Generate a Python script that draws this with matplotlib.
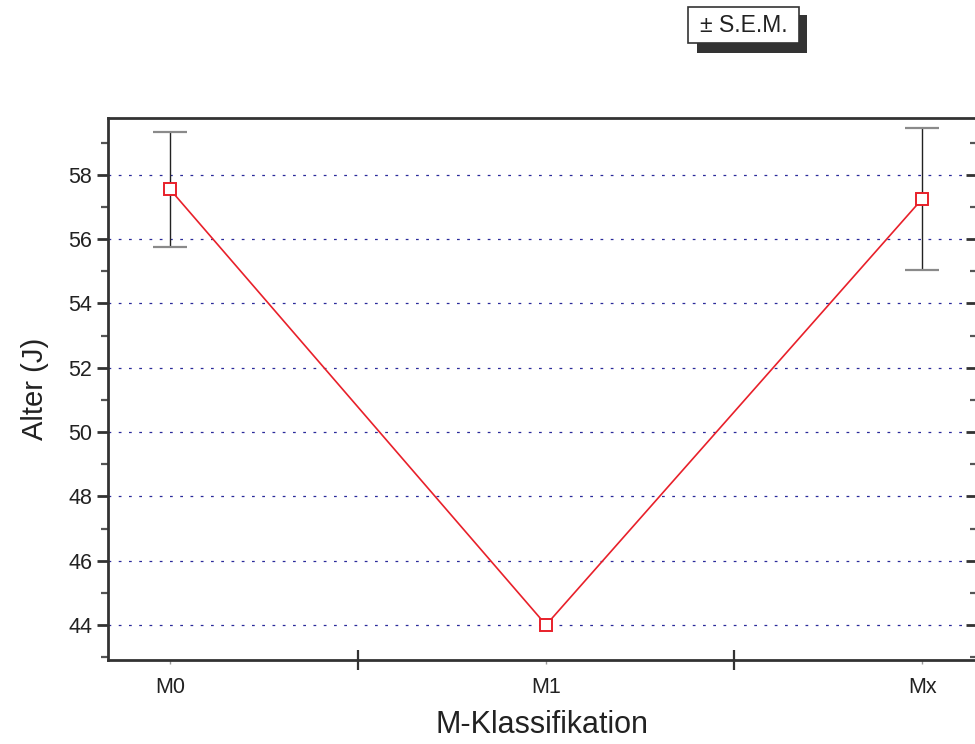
import numpy as np
import matplotlib.pyplot as plt
from matplotlib.patches import Rectangle
from matplotlib.ticker import MultipleLocator, FixedLocator

plt.rcParams['font.family'] = ['Liberation Sans', 'DejaVu Sans']

categories = ["M0", "M1", "Mx"]
mean_age = [57.55, 44.0, 57.25]
sem_age = [1.79, 0.0, 2.2]

W, H = 975, 744
fig = plt.figure(figsize=(W / 100, H / 100), dpi=100)
ax = fig.add_axes([108 / W, 1 - 660 / H, (977 - 108) / W, (660 - 118) / H])

x = np.arange(len(categories))
has_err = [s > 0 for s in sem_age]
eb = ax.errorbar(x[has_err], np.array(mean_age)[has_err], yerr=np.array(sem_age)[has_err],
                 fmt="none", ecolor="#222222", elinewidth=1.0, capsize=12, capthick=1.6, zorder=2)
# caps drawn in a lighter grey than the stems
for cap in eb.lines[1]:
    cap.set_markeredgecolor("#8a8a8a")
ax.plot(x, mean_age, color="#e8202a", lw=1.2, marker="s", markersize=8.5,
        markerfacecolor="white", markeredgecolor="#e8202a", markeredgewidth=1.4, zorder=3)

ax.set_xlim(-0.165, 2.146)
ax.set_ylim(42.91, 59.77)

ax.yaxis.set_major_locator(MultipleLocator(2))
ax.yaxis.set_minor_locator(MultipleLocator(1))
ax.grid(axis="y", which="major", color="#2a2a9a", linestyle=(0, (2.2, 6)), linewidth=0.9)

ax.xaxis.set_major_locator(FixedLocator(x))
ax.xaxis.set_minor_locator(FixedLocator([0.5, 1.5]))
ax.set_xticklabels(categories)
ax.tick_params(axis="x", which="major", length=3, width=1, color="#999999", labelsize=15.5, pad=9,
               labelcolor="#222222")
ax.tick_params(axis="x", which="minor", length=14, width=1.6, direction="inout", color="#333333")
ax.tick_params(axis="y", which="major", length=8, width=2, color="#333333", labelsize=15.5,
               labelcolor="#222222", right=True)
ax.tick_params(axis="y", which="minor", length=5, width=1.6, color="#555555", right=True)
ax.tick_params(axis="y", which="both", labelright=False)
# right-side ticks point inward
for t in ax.yaxis.get_major_ticks() + ax.yaxis.get_minor_ticks():
    t.tick2line.set_marker(0)

for s in ax.spines.values():
    s.set_color("#333333")
    s.set_linewidth(2)

ax.set_ylabel("Alter (J)", fontsize=21, color="#222222", labelpad=14)
ax.set_xlabel("M-Klassifikation", fontsize=22, color="#222222", labelpad=9)

# key box with drop shadow
fig.patches.append(Rectangle((697 / W, 1 - 53 / H), 110 / W, 38 / H, transform=fig.transFigure,
                             facecolor="#333333", edgecolor="none", zorder=1))
fig.patches.append(Rectangle((688 / W, 1 - 43 / H), 111 / W, 36 / H, transform=fig.transFigure,
                             facecolor="white", edgecolor="#333333", linewidth=1.2, zorder=2))
fig.text(744 / W, 1 - 26 / H, "± S.E.M.", fontsize=16.5, color="#222222", ha="center", va="center",
         zorder=3)

fig.savefig("out.png", dpi=100)
